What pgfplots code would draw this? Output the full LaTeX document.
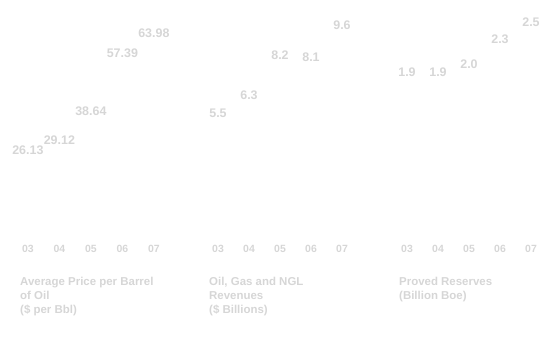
\documentclass[border=0pt]{standalone}
\usepackage{pgfplots}
\pgfplotsset{compat=1.18}
\usepackage{fontspec}
\setmainfont{Liberation Sans}
\definecolor{txt}{gray}{0.84}
\pgfplotsset{
  panel/.style={
    scale only axis, anchor=south west,
    height=216bp, ymin=0,
    xmin=-0.6, xmax=4.6,
    xtick={0,1,2,3,4},
    xticklabels={03,04,05,06,07},
    ytick=\empty,
    axis line style={draw=none},
    major tick length=0pt,
    ybar, bar width=18bp,
    tick label style={font=\bfseries\fontsize{10.5}{11}\selectfont, text=txt},
    /pgf/number format/assume math mode=true,
    xticklabel style={yshift=-6bp},
    nodes near coords,
    nodes near coords style={font=\bfseries\fontsize{12.5}{13}\selectfont, text=txt, inner sep=1bp},
    point meta=explicit symbolic,
  }
}
\begin{document}
\begin{tikzpicture}
\useasboundingbox (0,0) rectangle (546bp,364bp);
\begin{axis}[panel, at={(9bp,128bp)}, width=163.8bp, ymax=70]
\addplot[fill=white, draw=none] coordinates {(0,26.13)[26.13] (1,29.12)[29.12] (2,38.64)[38.64] (3,57.39)[57.39] (4,63.98)[63.98]};
\end{axis}
\begin{axis}[panel, at={(199.4bp,128bp)}, width=161.2bp, ymax=10.1]
\addplot[fill=white, draw=none] coordinates {(0,5.5)[5.5] (1,6.3)[6.3] (2,8.2)[8.2] (3,8.1)[8.1] (4,9.6)[9.6]};
\end{axis}
\begin{axis}[panel, at={(388.4bp,128bp)}, width=161.2bp, ymax=2.6]
\addplot[fill=white, draw=none] coordinates {(0,1.9)[1.9] (1,1.9)[1.9] (2,2.0)[2.0] (3,2.3)[2.3] (4,2.5)[2.5]};
\end{axis}
\node[anchor=north west, align=left, inner sep=0pt, text=txt, font=\bfseries\fontsize{11.5}{14}\selectfont] at (20bp,87bp) {Average Price per Barrel\\of Oil\\(\$ per Bbl)};
\node[anchor=north west, align=left, inner sep=0pt, text=txt, font=\bfseries\fontsize{11.5}{14}\selectfont] at (209bp,87bp) {Oil, Gas and NGL\\Revenues\\(\$ Billions)};
\node[anchor=north west, align=left, inner sep=0pt, text=txt, font=\bfseries\fontsize{11.5}{14}\selectfont] at (399bp,87bp) {Proved Reserves\\(Billion Boe)};
\end{tikzpicture}
\end{document}
